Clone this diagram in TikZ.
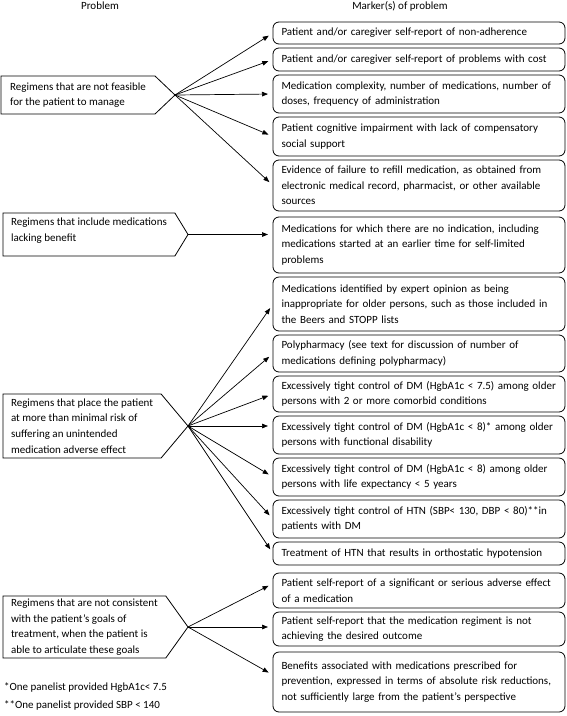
\documentclass[tikz,border=0pt]{standalone}
\usepackage{fontspec}
\setmainfont{Carlito}
\usetikzlibrary{arrows.meta}
\newcommand{\keepline}[1]{\mbox{#1}}
\begin{document}
\begin{tikzpicture}[x=1pt,y=-1pt,
  txt/.style={font=\fontsize{11}{15.6}\selectfont},
  mbox/.style={txt, draw, line width=0.8pt, rounded corners=6pt, anchor=north west,
    inner xsep=8.5pt, inner ysep=0pt, outer sep=0pt, text width=275pt, align=left},
  pbox/.style={txt, anchor=north west, inner xsep=8pt, inner ysep=0pt, outer sep=0pt, align=left},
  pline/.style={line width=0.8pt, line join=miter},
  arr/.style={-{Triangle[length=6pt,width=4.6pt]}, line width=0.7pt, shorten >=5pt},
  head/.style={txt, inner sep=0pt}
]
\useasboundingbox (0,0) rectangle (567,716);

% headers
\node[head] (h1) at (100,6) {Problem};
\node[head] (h2) at (400,6) {Marker(s) of problem};

% right boxes
\node[mbox, minimum height=22pt] (b1) at (273,22) {\keepline{Patient and/or caregiver self-report of non-adherence}};
\node[mbox, minimum height=23pt] (b2) at (273,48) {\keepline{Patient and/or caregiver self-report of problems with cost}};
\node[mbox, minimum height=38pt] (b3) at (273,75) {\keepline{Medication complexity, number of medications, number of}\\\keepline{doses, frequency of administration}};
\node[mbox, minimum height=39pt] (b4) at (273,117) {\keepline{Patient cognitive impairment with lack of compensatory}\\\keepline{social support}};
\node[mbox, minimum height=51pt] (b5) at (273,160) {\keepline{Evidence of failure to refill medication, as obtained from}\\\keepline{electronic medical record, pharmacist, or other available}\\\keepline{sources}};
\node[mbox, minimum height=56pt] (b6) at (273,217) {\keepline{Medications for which there are no indication, including}\\\keepline{medications started at an earlier time for self-limited}\\\keepline{problems}};
\node[mbox, minimum height=54pt] (b7) at (273,277) {\keepline{Medications identified by expert opinion as being}\\\keepline{inappropriate for older persons, such as those included in}\\\keepline{the Beers and STOPP lists}};
\node[mbox, minimum height=37pt] (b8) at (273,335) {\keepline{Polypharmacy (see text for discussion of number of}\\\keepline{medications defining polypharmacy)}};
\node[mbox, minimum height=36pt] (b9) at (273,376) {\keepline{Excessively tight control of DM (HgbA1c < 7.5) among older}\\\keepline{persons with 2 or more comorbid conditions}};
\node[mbox, minimum height=38pt] (b10) at (273,416) {\keepline{Excessively tight control of DM (HgbA1c < 8)* among older}\\\keepline{persons with functional disability}};
\node[mbox, minimum height=38pt] (b11) at (273,458) {\keepline{Excessively tight control of DM (HgbA1c < 8) among older}\\\keepline{persons with life expectancy < 5 years}};
\node[mbox, minimum height=38pt] (b12) at (273,500) {\keepline{Excessively tight control of HTN (SBP< 130, DBP < 80)**in}\\\keepline{patients with DM}};
\node[mbox, minimum height=23pt] (b13) at (273,542) {\keepline{Treatment of HTN that results in orthostatic hypotension}};
\node[mbox, minimum height=35pt] (b14) at (273,573) {\keepline{Patient self-report of a significant or serious adverse effect}\\\keepline{of a medication}};
\node[mbox, minimum height=34pt] (b15) at (273,612) {\keepline{Patient self-report that the medication regiment is not}\\\keepline{achieving the desired outcome}};
\node[mbox, minimum height=60pt] (b16) at (273,652) {\keepline{Benefits associated with medications prescribed for}\\\keepline{prevention, expressed in terms of absolute risk reductions,}\\\keepline{not sufficiently large from the patient’s perspective}};

% left problem boxes
\node[pbox, minimum width=154pt, minimum height=38pt] (p1) at (1,76) {\keepline{Regimens that are not feasible}\\\keepline{for the patient to manage}};
\coordinate (t1) at (175,95);
\node[pbox, minimum width=165pt, minimum height=35pt] (p2) at (3,213) {\keepline{Regimens that include medications}\\\keepline{lacking benefit}};
\coordinate (t2) at (188,234.5);
\node[pbox, minimum width=153pt, minimum height=64pt] (p3) at (3,394) {\keepline{Regimens that place the patient}\\\keepline{at more than minimal risk of}\\\keepline{suffering an unintended}\\\keepline{medication adverse effect}};
\coordinate (t3) at (188,426);
\node[pbox, minimum width=155pt, minimum height=62pt] (p4) at (3,596) {\keepline{Regimens that are not consistent}\\\keepline{with the patient’s goals of}\\\keepline{treatment, when the patient is}\\\keepline{able to articulate these goals}};
\coordinate (t4) at (188,627);

\foreach \p/\t in {p1/t1,p3/t3,p4/t4}
  \draw[pline] (\p.north west) -- (\p.north east) -- (\t) -- (\p.south east) -- (\p.south west) -- cycle;
\draw[pline] (p2.north west) -- (p2.north east) -- (t2) -- ([yshift=-8pt]p2.south east) -- ([yshift=-8pt]p2.south west) -- cycle;

% connectors
\foreach \b in {b1,b2,b3,b4,b5}
  \draw[arr] (t1) -- (\b.west);
\draw[arr] (t2) -- (t2 -| b6.west);
\foreach \b in {b7,b8,b9,b11,b12,b13}
  \draw[arr] (t3) -- (\b.west);
\draw[arr] (t3) -- (t3 -| b10.west);
\draw[arr] (t4) -- ([yshift=7pt]b14.west);
\draw[arr] (t4) -- (t4 -| b15.west);
\draw[arr] (t4) -- ([yshift=7pt]b16.west);

% footnotes
\node[txt, anchor=west, inner sep=0pt] (f1) at (4,688) {*One panelist provided HgbA1c< 7.5};
\node[txt, anchor=west, inner sep=0pt] (f2) at (4,705) {**One panelist provided SBP < 140};
\end{tikzpicture}
\end{document}
